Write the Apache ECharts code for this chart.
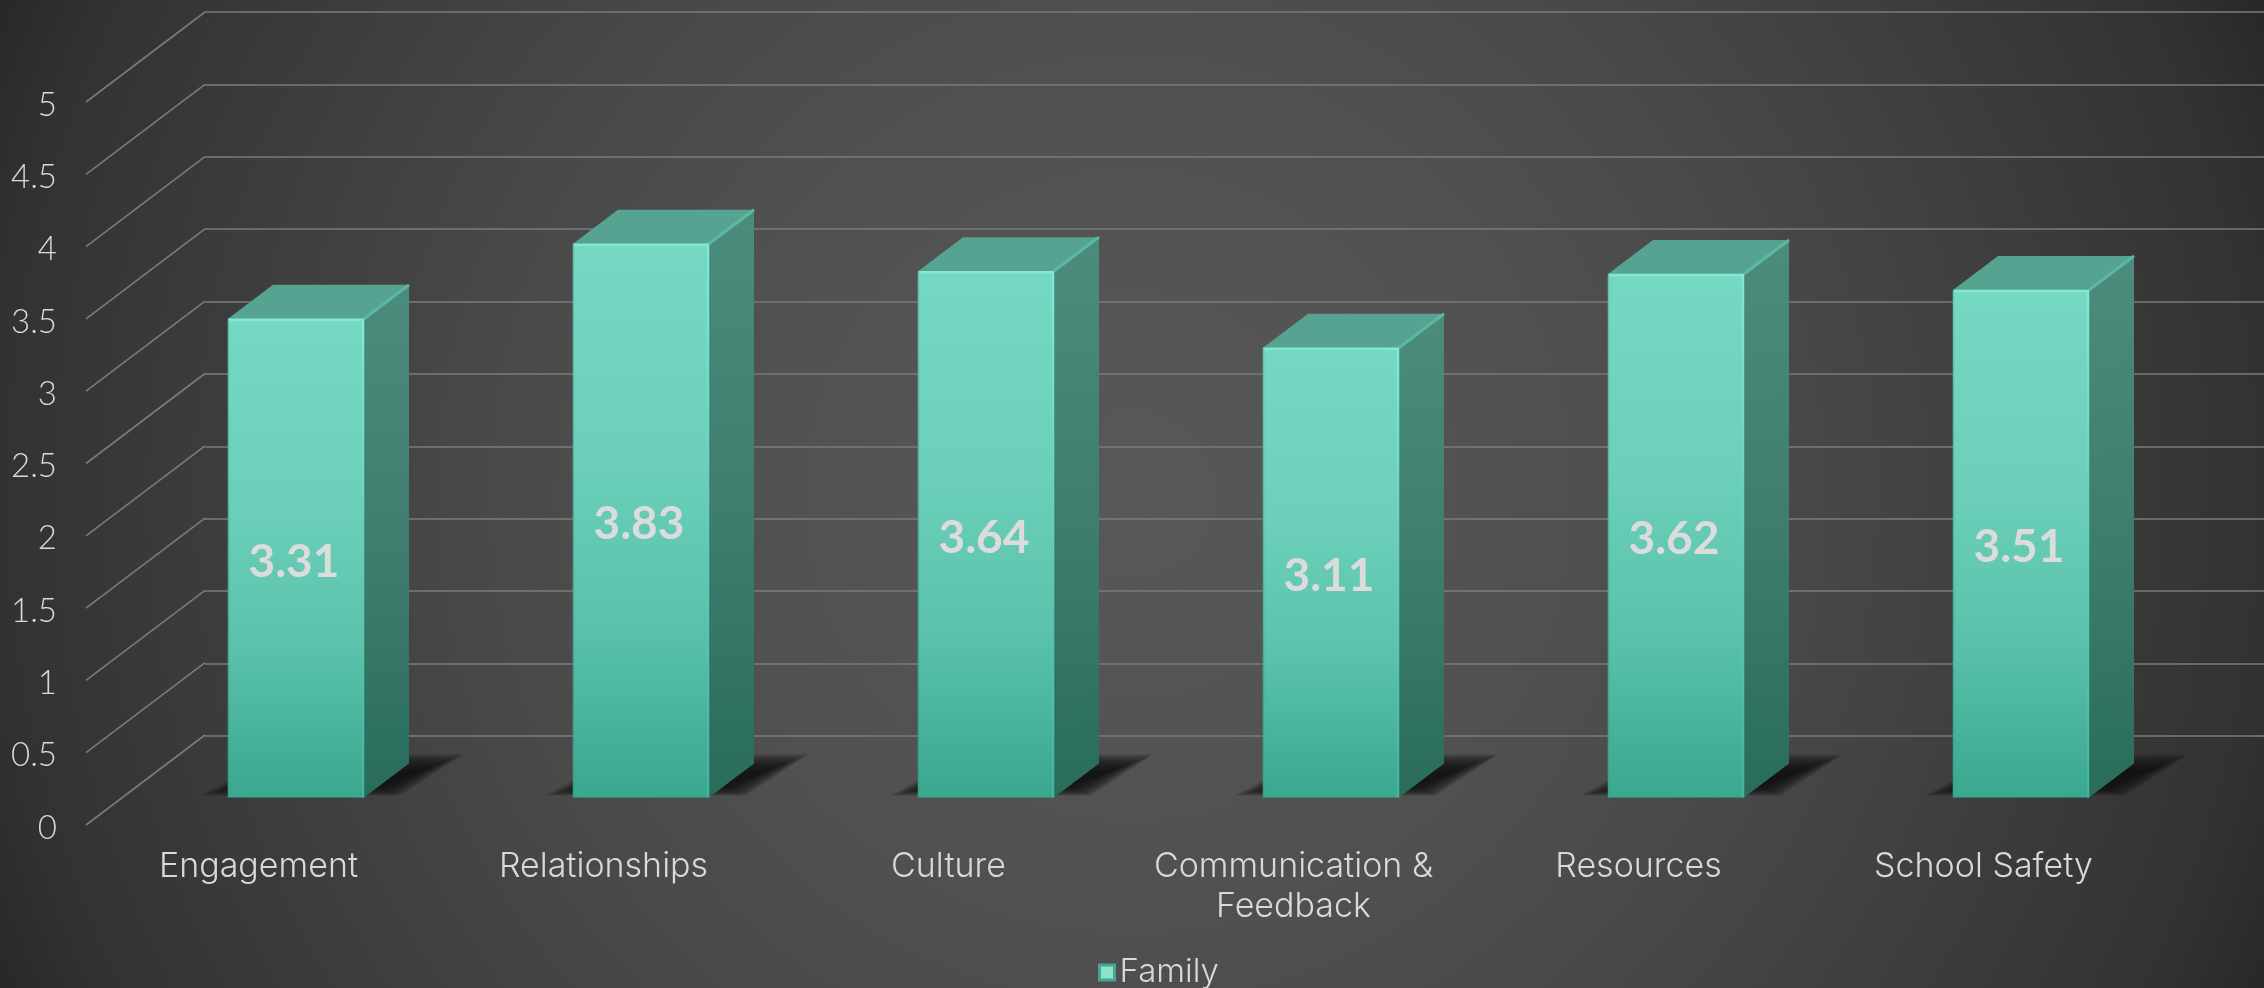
<!DOCTYPE html>
<html>
<head>
<meta charset="utf-8">
<style>html,body{margin:0;padding:0;background:#333}#c{width:2264px;height:988px}</style>
<script src="https://cdn.jsdelivr.net/npm/echarts@6/dist/echarts.min.js"></script>
</head>
<body>
<div id="c"></div>
<script>
const categories = ['Engagement', 'Relationships', 'Culture', 'Communication &\nFeedback', 'Resources', 'School Safety'];
const familyValues = [3.31, 3.83, 3.64, 3.11, 3.62, 3.51];
const axisTicks = [0, 0.5, 1, 1.5, 2, 2.5, 3, 3.5, 4, 4.5, 5];
const seriesName = 'Family';

const FONT = 'Lato';
const G = echarts.graphic;
const grad = (x2, y2, stops) => new G.LinearGradient(0, 0, x2, y2, stops.map(s => ({offset: s[0], color: s[1]})));

const chart = echarts.init(document.getElementById('c'), null, {width: 2264, height: 988});

function renderWall(params, api) {
  const p = api.coord([0, api.value(1)]);
  const halfBand = api.size([1, 0])[0] / 2;
  const x = p[0] - halfBand;
  return {type: 'line', z2: 1,
    shape: {x1: x, y1: p[1], x2: x + 119, y2: p[1] - 90},
    style: {stroke: '#7b7b7b', lineWidth: 1.6}};
}

function shadowLayers(x0, yB) {
  const layers = [];
  const N = 22;
  for (let k = 0; k < N; k++) {
    const e = 46 * (1 - k / (N - 1));
    layers.push({type: 'polygon', z2: 2,
      shape: {points: [[x0 + 18 - e, yB - 12 + e * 0.22], [x0 + 70 - e * 0.5, yB - 25 - e * 0.4], [x0 + 190 + e, yB - 25 - e * 0.4], [x0 + 150 + e * 0.5, yB - 12 + e * 0.22]]},
      style: {fill: 'rgba(18,18,18,0.1)'}});
  }
  return layers;
}

function renderBar(params, api) {
  const top = api.coord([api.value(0), api.value(1)]);
  const base = api.coord([api.value(0), 0]);
  const w = 136, dx = 45, dy = 34;
  const x0 = top[0] + 37.5 - w / 2, x1 = x0 + w;
  const yT = top[1] - 27.5, yB = base[1] - 27.5;
  return {type: 'group', children: shadowLayers(x0, yB).concat([
    {type: 'polygon', z2: 3,
      shape: {points: [[x1, yT], [x1 + dx, yT - dy], [x1 + dx, yB - dy], [x1, yB]]},
      style: {fill: grad(0.25, 1, [[0, '#4B8C7D'], [0.5, '#3F7E6F'], [1, '#296C5C']])}},
    {type: 'polygon', z2: 3,
      shape: {points: [[x0, yT], [x0 + dx, yT - dy], [x1 + dx, yT - dy], [x1, yT]]},
      style: {fill: '#57A391'}},
    {type: 'line', z2: 4,
      shape: {x1: x1, y1: yT, x2: x1 + dx, y2: yT - dy},
      style: {stroke: '#5DB8A3', lineWidth: 3}},
    {type: 'rect', z2: 5,
      shape: {x: x0, y: yT, width: w, height: yB - yT},
      style: {fill: grad(0, 1, [[0, '#74D8C3'], [0.4, '#6BCFB9'], [0.69, '#5AC2AC'], [1, '#3AA78F']])}},
    {type: 'line', z2: 6,
      shape: {x1: x0, y1: yT + 1, x2: x1, y2: yT + 1},
      style: {stroke: '#82EAD4', lineWidth: 2.5}},
    {type: 'line', z2: 6,
      shape: {x1: x1 - 1, y1: yT, x2: x1 - 1, y2: yB},
      style: {stroke: grad(0, 1, [[0, '#82EAD4'], [1, '#44B39B']]), lineWidth: 2.5}},
    {type: 'line', z2: 6,
      shape: {x1: x0 + 0.5, y1: yT, x2: x0 + 0.5, y2: yB},
      style: {stroke: grad(0, 1, [[0, '#64C6B0'], [1, '#38A088']]), lineWidth: 1.5}},
    {type: 'text', z2: 7,
      style: {x: x0 + w / 2 - 2, y: (yT + yB) / 2 + 3.5, text: api.value(1).toFixed(2),
        fill: '#DCDCDC', font: 'bold 46px ' + FONT, align: 'center', verticalAlign: 'middle'}}
  ])};
}

chart.setOption({
  animation: false,
  backgroundColor: new G.RadialGradient(0.5, 0.5, 1.25, [
    {offset: 0, color: '#585858'},
    {offset: 0.35, color: '#505050'},
    {offset: 0.52, color: '#494949'},
    {offset: 0.65, color: '#424242'},
    {offset: 0.92, color: '#323232'},
    {offset: 1, color: '#282828'}
  ]),
  legend: {
    left: 1093, top: 951, itemWidth: 15, itemHeight: 15, itemGap: 8,
    icon: 'rect',
    data: [{name: seriesName, itemStyle: {color: '#8FE0CF', borderColor: '#45A792', borderWidth: 3}}],
    textStyle: {color: '#D9D9D9', fontFamily: 'Inter', fontSize: 33, fontWeight: 300}
  },
  grid: [
    {left: 86, top: 102, width: 2070, height: 723},
    {left: 205, top: 12, width: 2059, height: 724},
    {left: 86, top: 105, width: 2070, height: 723}
  ],
  xAxis: [
    {type: 'category', gridIndex: 0, data: categories,
      axisLine: {show: false}, axisTick: {show: false},
      axisLabel: {color: '#D9D9D9', fontFamily: 'Inter', fontSize: 34, fontWeight: 300, margin: 22, lineHeight: 40, interval: 0}},
    {type: 'category', gridIndex: 1, data: categories, show: false},
    {type: 'category', gridIndex: 2, data: categories, show: false}
  ],
  yAxis: [
    {type: 'value', gridIndex: 0, min: 0, max: 5, interval: 0.5, show: false},
    {type: 'value', gridIndex: 1, min: 0, max: 5, interval: 0.5,
      axisLine: {show: false}, axisTick: {show: false}, axisLabel: {show: false},
      splitLine: {show: true, lineStyle: {color: '#7b7b7b', width: 1.6}}},
    {type: 'value', gridIndex: 2, min: 0, max: 5, interval: 0.5,
      axisLine: {show: false}, axisTick: {show: false}, splitLine: {show: false},
      axisLabel: {color: '#D9D9D9', fontFamily: FONT, fontSize: 33, fontWeight: 300, margin: 29}}
  ],
  series: [
    {type: 'custom', name: 'wall', xAxisIndex: 0, yAxisIndex: 0, z: 1, silent: true,
      data: axisTicks.map(t => [0, t]), encode: {x: 0, y: 1}, renderItem: renderWall},
    {type: 'custom', name: seriesName, xAxisIndex: 0, yAxisIndex: 0, z: 3,
      itemStyle: {color: '#5DC3AC'},
      data: familyValues.map((v, i) => [i, v]), encode: {x: 0, y: 1}, renderItem: renderBar}
  ]
});
</script>
</body>
</html>
